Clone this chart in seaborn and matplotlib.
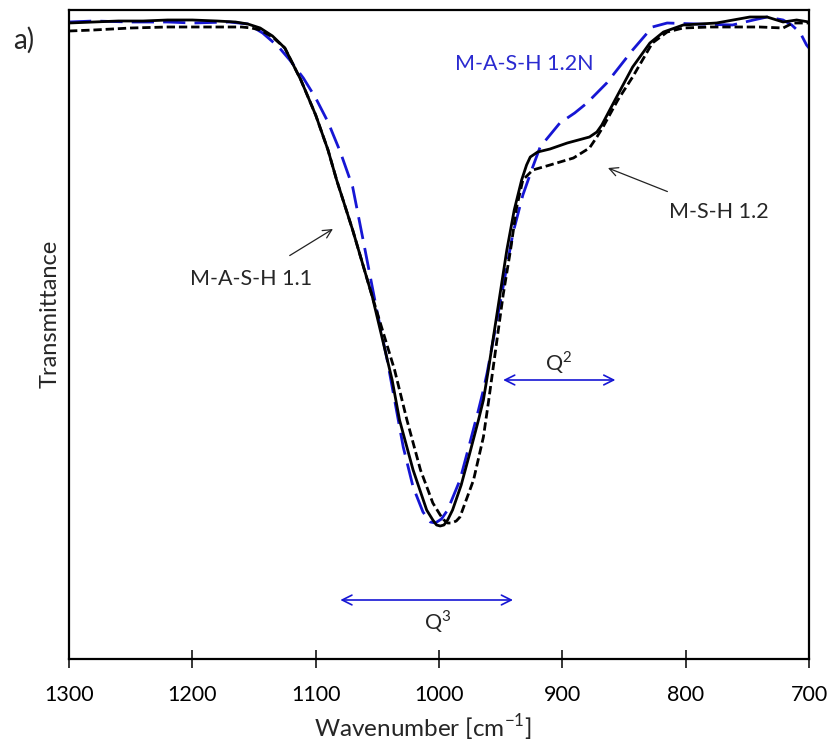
import matplotlib
matplotlib.use("Agg")
import matplotlib.pyplot as plt
import pandas as pd
import seaborn as sns

# FTIR spectra, transmittance in arbitrary units
wn_mash11 = [1300, 1280, 1260, 1240, 1220, 1200, 1180, 1165, 1155, 1145, 1135, 1125,
             1112, 1100, 1090, 1083, 1070, 1054, 1038, 1032, 1021, 1010, 1005, 1002,
             999, 996, 993, 989, 982, 975, 968, 964, 960, 955, 950, 945, 939, 933,
             929, 926, 920, 910, 896, 878, 872, 868, 856, 843, 829, 818, 802, 775,
             748, 734, 721, 710, 700]
t_mash11 = [636, 637, 638, 638, 639, 639, 638, 637, 635, 631, 623, 611,
            579, 544, 509, 479, 429, 362, 279, 239, 189, 149, 139, 134,
            133, 134, 139, 149, 174, 206, 239, 259, 289, 329, 369, 409, 449, 479,
            494, 502, 507, 510, 516, 522, 527, 534, 562, 592, 616, 627, 634, 636,
            642, 642, 637, 639, 637]

wn_msh12 = [1300, 1280, 1250, 1220, 1200, 1170, 1160, 1152, 1145, 1135, 1125, 1112,
            1100, 1090, 1083, 1070, 1054, 1036, 1026, 1015, 1005, 999, 996, 993,
            990, 986, 983, 972, 964, 960, 953, 948, 942, 937, 932, 924, 910, 891,
            878, 872, 867, 855, 843, 827, 815, 802, 780, 762, 740, 721, 713, 702, 700]
t_msh12 = [628, 629, 631, 632, 632, 632, 632, 631, 629, 622, 611, 579,
           544, 509, 479, 429, 362, 289, 239, 189, 156, 144, 139, 136,
           136, 138, 142, 179, 222, 256, 319, 364, 409, 452, 479, 489, 494, 501,
           511, 522, 532, 559, 582, 616, 627, 631, 632, 632, 632, 631, 636, 636, 636]

wn_mash12n = [1300, 1280, 1250, 1220, 1200, 1170, 1155, 1143, 1130, 1121, 1110, 1100,
              1090, 1080, 1070, 1062, 1050, 1042, 1036, 1029, 1021, 1013, 1007, 1003,
              998, 993, 983, 975, 968, 964, 961, 950, 940, 932, 924, 918, 910, 902,
              890, 880, 864, 843, 827, 815, 790, 762, 745, 734, 721, 714, 707, 702, 700]
t_mash12n = [637, 638, 637, 637, 636, 637, 635, 626, 612, 599, 581, 561,
             537, 507, 472, 422, 346, 299, 259, 212, 172, 147, 137, 136,
             140, 149, 179, 216, 249, 269, 286, 359, 426, 464, 492, 512, 524, 536,
             546, 556, 576, 609, 632, 636, 635, 634, 639, 642, 639, 634, 626, 614, 611]

samples = ["M-A-S-H 1.2N", "M-A-S-H 1.1", "M-S-H 1.2"]
xticks = [1300, 1200, 1100, 1000, 900, 800, 700]

BLUE = "#1616d4"

df = pd.concat([
    pd.DataFrame({"wn": wn_mash12n, "T": t_mash12n, "sample": "M-A-S-H 1.2N"}),
    pd.DataFrame({"wn": wn_mash11, "T": t_mash11, "sample": "M-A-S-H 1.1"}),
    pd.DataFrame({"wn": wn_msh12, "T": t_msh12, "sample": "M-S-H 1.2"}),
], ignore_index=True)

sns.set_style("white")
plt.rcParams['font.family'] = ['Lato', 'DejaVu Sans']

fig = plt.figure(figsize=(8.32, 7.47), dpi=100)
ax = fig.add_axes([69 / 832, 1 - 659 / 747, 740 / 832, 649 / 747])

sns.lineplot(
    data=df, x="wn", y="T", hue="sample", style="sample",
    hue_order=samples, style_order=samples,
    palette={"M-A-S-H 1.2N": BLUE, "M-A-S-H 1.1": "black", "M-S-H 1.2": "black"},
    dashes={"M-A-S-H 1.2N": (8, 3.3), "M-A-S-H 1.1": "", "M-S-H 1.2": (3.0, 1.4)},
    estimator=None, sort=False, linewidth=2.0, legend=False, ax=ax,
)

ax.set_xlim(1300, 700)
ax.set_ylim(0, 649)
ax.set_xticks(xticks)
ax.set_xticklabels([str(t) for t in xticks])
ax.set_yticks([])
ax.tick_params(axis="x", direction="inout", length=13, width=1.1, pad=12,
               labelsize=15.5, colors="black", bottom=True)
for s in ax.spines.values():
    s.set_linewidth(1.6)
    s.set_color("black")

ax.set_ylabel("")
ax.set_xlabel("Wavenumber [cm$^{\\mathregular{-1}}$]", fontsize=17.5, va="center")
ax.xaxis.set_label_coords(0.478, -0.106)
fig.text(50 / 832, 1 - 314 / 747, "Transmittance", rotation=90, fontsize=17,
         ha="center", va="center")
fig.text(24 / 832, 1 - 40 / 747, "a)", fontsize=20, ha="center", va="center")

# labels and arrows
ax.text(931, 595, "M-A-S-H 1.2N", color="#2a2ad0", fontsize=15.5, ha="center", va="center")
ax.annotate("M-S-H 1.2", xy=(863, 491), xytext=(773, 447), fontsize=15.5,
            ha="center", va="center",
            arrowprops=dict(arrowstyle="->", color="#222222", lw=0.9,
                            shrinkA=14, shrinkB=0))
ax.annotate("M-A-S-H 1.1", xy=(1086, 430), xytext=(1152, 380), fontsize=15.5,
            ha="center", va="center",
            arrowprops=dict(arrowstyle="->", color="#222222", lw=0.9,
                            shrinkA=14, shrinkB=0))

ax.annotate("", xy=(857, 279), xytext=(948, 279),
            arrowprops=dict(arrowstyle="<->,head_length=0.7,head_width=0.35",
                            color=BLUE, lw=1.2, shrinkA=0, shrinkB=0))
ax.text(903, 296, "Q$^{\\mathregular{2}}$", fontsize=15.5, ha="center", va="center")
ax.annotate("", xy=(940, 59), xytext=(1080, 59),
            arrowprops=dict(arrowstyle="<->,head_length=0.7,head_width=0.35",
                            color=BLUE, lw=1.2, shrinkA=0, shrinkB=0))
ax.text(1001, 37, "Q$^{\\mathregular{3}}$", fontsize=15.5, ha="center", va="center")

fig.savefig("out.png", dpi=100)
